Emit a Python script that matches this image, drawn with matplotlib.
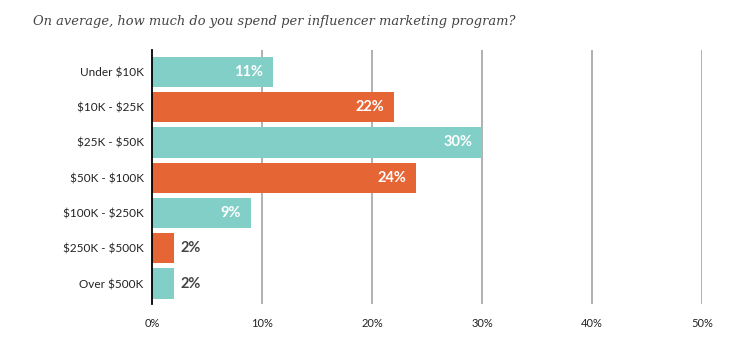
import matplotlib
matplotlib.use("Agg")
import matplotlib.pyplot as plt

categories = ["Under $10K", "$10K - $25K", "$25K - $50K", "$50K - $100K",
              "$100K - $250K", "$250K - $500K", "Over $500K"]
values = [11, 22, 30, 24, 9, 2, 2]
xticks = [0, 10, 20, 30, 40, 50]

teal = "#82CFC8"
orange = "#E56535"
colors = [teal if i % 2 == 0 else orange for i in range(len(values))]

plt.rcParams["font.family"] = ["Lato", "DejaVu Sans"]
plt.rcParams["text.parse_math"] = False

fig = plt.figure(figsize=(7.56, 3.43), dpi=100)
ax = fig.add_axes([152 / 756, 1 - 304 / 343, 550 / 756, 254 / 343])

ax.barh(range(len(values)), values, height=0.86, color=colors, zorder=3)
ax.set_ylim(6.58, -0.62)
ax.set_xlim(0, 50)

for i, v in enumerate(values):
    if v >= 5:
        ax.text(v - 0.9, i, f"{v}%", ha="right", va="center", color="white",
                fontsize=10.5, fontweight="bold", zorder=4)
    else:
        ax.text(v + 0.6, i, f"{v}%", ha="left", va="center", color="#444444",
                fontsize=10.5, fontweight="bold", zorder=4)

ax.set_yticks(range(len(categories)))
ax.set_yticklabels(categories, fontsize=8.5, color="#222222")
ax.set_xticks(xticks)
ax.set_xticklabels([f"{t}%" for t in xticks], fontsize=8, color="#222222")
ax.tick_params(axis="both", length=0, pad=6)
ax.tick_params(axis="x", pad=10)

for t in xticks[1:]:
    ax.axvline(t, color="#aaaaaa", lw=1.3, zorder=1)

for s in ["top", "right", "bottom"]:
    ax.spines[s].set_visible(False)
ax.spines["left"].set_color("black")
ax.spines["left"].set_linewidth(1.3)
ax.spines["left"].set_zorder(5)

fig.text(33 / 756, 1 - 22 / 343, "On average, how much do you spend per influencer marketing program?",
         fontsize=9.4, style="italic", color="#444444", va="center",
         family=["DejaVu Serif"])

fig.savefig("out.png", dpi=100)
